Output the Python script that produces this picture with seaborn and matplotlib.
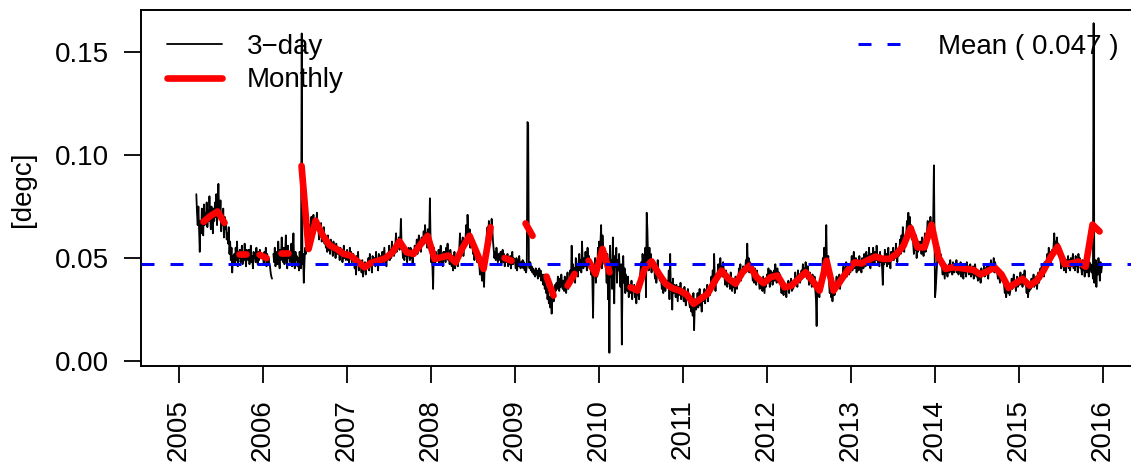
import numpy as np
import pandas as pd
import matplotlib
matplotlib.use("Agg")
import matplotlib.pyplot as plt
import seaborn as sns
from matplotlib.lines import Line2D

# 3-day values in thousandths of a degree (None = missing)
three_day_2005 = [
    81, 72, 66, 75, 64,
    53, 68, 62, 74, 70, 61, 76, 66, 72, 69,
    77, 65, 73, 68, 80, 70, 64, 75, 71, 62,
    74, 68, 77, 70, 81, 66, 75, 86, 72, 69,
    78, 63, 71, 66, 74, 60, 70, 64, 67, 59,
    62, 57, 65, 52, 58, 49, 55, 43, 51, 47,
    52, 47, 55, 49, 58, 46, 53, 50, 54, 48,
    50, 56, 47, 53, 49, 57, 51, 46, 54, 52,
    49, 54, 47, 52, 56, 48, 51, 45, 53, 50,
    52, 48, 55, 50, 47, 53, 49, 54, 51, 50,
]
three_day_2006 = [
    51, 47, 53, 49, 55, 46, 52, 48, 50, 47,
    46, 43, 41, 40, None, 52, 48, 55, 46, 50,
    53, 47, 58, 50, 45, 54, 49, 60, 51, 48,
    55, 47, 52, 61, 49, 45, 56, 50, 53, 48,
    50, 57, 46, 52, 62, 48, 45, 53, 49, 51,
    46, 50, 44, 53, 48, 45, 159, 47, 52, 38,
    48, 55, 52, 60, 57, 63, 58, 66, 61, 64,
    70, 63, 68, 71, 65, 62, 69, 66, 72, 64,
    66, 59, 64, 61, 67, 58, 63, 60, 65, 57,
    60, 55, 58, 53, 61, 54, 57, 52, 59, 56,
    55, 51, 58, 53, 56, 50, 57, 54, 52, 55,
    53, 49, 55, 51, 54, 48, 52, 56, 50, 53, 49, 52,
]
three_day_2007 = [
    54, 49, 52, 47, 55, 50, 53, 48, 51, 52,
    50, 45, 48, 42, 51, 47, 53, 44, 49, 46,
    47, 43, 49, 41, 46, 44, 48, 42, 47, 45,
    46, 50, 44, 52, 47, 49, 43, 51, 48, 47,
    50, 46, 53, 47, 49, 44, 52, 48, 51, 47,
    49, 53, 47, 51, 55, 48, 50, 46, 52, 49,
    51, 56, 49, 54, 50, 58, 52, 55, 51, 53,
    57, 62, 53, 58, 55, 60, 54, 59, 69, 56,
    55, 50, 53, 49, 56, 51, 54, 48, 52, 55,
    53, 49, 55, 50, 52, 47, 54, 51, 56, 52,
    54, 59, 52, 57, 61, 55, 58, 53, 60, 56,
    58, 63, 57, 66, 60, 62, 55, 64, 59, 61, 79, 58,
]
three_day_2008 = [
    48, 52, 46, 35, 55, 50, 47, 53, 49, 51,
    49, 54, 47, 52, 56, 48, 51, 46, 53, 50,
    53, 48, 55, 50, 57, 49, 52, 47, 54, 51,
    46, 51, 44, 49, 53, 45, 50, 47, 48, 46,
    50, 55, 62, 52, 58, 54, 60, 51, 57, 55,
    59, 66, 57, 71, 62, 58, 64, 55, 61, 60,
    58, 52, 56, 49, 55, 51, 54, 48, 53, 50,
    47, 42, 45, 44, 39, 43, 41, 36, 48, 46,
    55, 62, 65, 60, 68, 63, 66, 61, 69, 64,
    58, 54, 50, 53, 49, 55, 51, 48, 52, 50,
    49, 53, 47, 51, 54, 48, 52, 46, 50, 49,
    48, 52, 46, 50, 47, 51, 45, 49, 53, 47, 50, 48,
]
three_day_2009 = [
    48, 45, 50, 44, 49, 46, 51, 47, 45, 48,
    46, 49, 45, 48, 44, 47, 43, 46, 116, 115,
    47, 45, 48, 44, 46, 43, 45, 42, 44, 41,
    45, 42, 44, 40, 43, 45, 41, 44, 39, 42,
    40, 37, 42, 35, 38, 33, 36, 30, 34, 28,
    31, 26, 33, 23, 30, 35, 29, 33, 37, 34,
    38, 35, 41, 37, 34, 40, 36, 42, 38, 35,
    39, 34, 41, 36, 33, 38, 43, 35, 40, 37,
    44, 39, 56, 42, 47, 40, 45, 38, 50, 43,
    46, 41, 48, 52, 44, 49, 43, 58, 47, 45,
    50, 46, 53, 48, 44, 55, 47, 51, 45, 49,
    42, 48, 39, 21, 45, 43, 50, 38, 46, 41, 55, 44,
]
three_day_2010 = [
    58, 50, 57, 66, 45, 61, 52, 55, 47, 53,
    48, 38, 52, 30, 45, 4, 56, 41, 49, 35,
    60, 42, 28, 51, 46, 55, 38, 49, 44, 52,
    43, 36, 47, 8, 40, 51, 38, 45, 33, 42,
    38, 34, 41, 31, 37, 35, 33, 39, 30, 36,
    34, 37, 31, 36, 28, 35, 38, 33, 30, 40,
    44, 48, 38, 52, 45, 50, 47, 55, 31, 72,
    64, 50, 44, 55, 46, 52, 43, 49, 47, 45,
    45, 40, 47, 38, 43, 49, 41, 44, 39, 42,
    39, 35, 41, 33, 37, 40, 34, 38, 36, 39,
    36, 44, 30, 52, 34, 38, 25, 40, 33, 37,
    35, 31, 37, 33, 29, 36, 34, 32, 38, 30, 35, 33,
]
three_day_2011 = [
    34, 29, 36, 31, 27, 33, 30, 35, 32, 28,
    26, 31, 24, 29, 22, 33, 15, 27, 30, 25,
    28, 33, 26, 31, 35, 27, 30, 24, 32, 29,
    30, 35, 28, 34, 31, 37, 29, 33, 36, 32,
    35, 41, 37, 44, 36, 52, 39, 34, 42, 38,
    42, 47, 40, 45, 50, 43, 46, 41, 48, 44,
    41, 37, 44, 39, 36, 42, 38, 40, 35, 43,
    38, 34, 40, 36, 39, 33, 41, 37, 35, 39,
    40, 45, 42, 47, 39, 44, 41, 46, 43, 45,
    44, 49, 46, 57, 45, 50, 43, 48, 47, 44,
    43, 39, 42, 38, 45, 40, 37, 44, 41, 39,
    38, 35, 40, 36, 39, 34, 41, 37, 33, 40, 36, 39,
]
three_day_2012 = [
    42, 38, 45, 40, 36, 44, 39, 43, 37, 41,
    44, 39, 47, 41, 38, 45, 40, 43, 39, 42,
    37, 33, 39, 35, 32, 38, 34, 36, 31, 37,
    35, 39, 33, 38, 36, 40, 34, 37, 35, 39,
    38, 43, 37, 41, 36, 44, 39, 42, 38, 40,
    44, 40, 47, 42, 45, 41, 48, 43, 40, 46,
    41, 37, 43, 38, 40, 36, 42, 39, 37, 41,
    35, 30, 17, 38, 33, 36, 31, 40, 34, 37,
    44, 50, 47, 55, 48, 52, 66, 45, 49, 51,
    38, 33, 36, 31, 35, 29, 34, 37, 32, 36,
    37, 41, 36, 40, 38, 42, 35, 39, 41, 38,
    42, 46, 40, 45, 43, 48, 41, 44, 47, 42, 45, 43,
]
three_day_2013 = [
    46, 51, 44, 49, 53, 45, 48, 50, 43, 47,
    49, 44, 51, 46, 48, 43, 50, 47, 45, 52,
    50, 46, 53, 48, 51, 47, 55, 49, 45, 52,
    52, 48, 55, 50, 47, 53, 49, 56, 51, 47,
    50, 46, 53, 48, 51, 45, 37, 49, 47, 54,
    48, 52, 46, 51, 55, 47, 50, 45, 53, 49,
    51, 55, 49, 53, 50, 57, 52, 48, 54, 51,
    54, 59, 52, 61, 56, 65, 58, 53, 60, 57,
    62, 68, 60, 72, 64, 70, 61, 66, 59, 65,
    57, 52, 59, 54, 61, 50, 56, 53, 58, 55,
    54, 58, 52, 60, 55, 51, 57, 62, 53, 56,
    63, 68, 60, 66, 64, 70, 62, 67, 65, 69, 95, 58,
]
three_day_2014 = [
    31, 35, 42, 48, 53, 50, 55, 49, 52, 47,
    46, 42, 48, 44, 40, 47, 43, 45, 41, 46,
    47, 43, 49, 44, 46, 42, 48, 45, 43, 47,
    45, 49, 43, 47, 42, 46, 44, 48, 41, 46,
    44, 40, 47, 43, 45, 41, 48, 44, 46, 42,
    43, 47, 41, 45, 42, 46, 40, 44, 47, 43,
    41, 44, 39, 43, 40, 42, 38, 45, 41, 43,
    43, 46, 41, 45, 42, 47, 44, 40, 46, 43,
    46, 49, 44, 47, 45, 50, 43, 48, 46, 44,
    43, 40, 45, 41, 38, 44, 42, 39, 43, 40,
    37, 33, 36, 31, 35, 38, 33, 36, 32, 34,
    36, 40, 35, 38, 42, 37, 39, 34, 38, 41, 36, 39,
]
three_day_2015 = [
    40, 37, 43, 38, 41, 36, 42, 39, 44, 38,
    37, 33, 39, 31, 36, 34, 38, 35, 40, 36,
    38, 42, 36, 40, 37, 41, 35, 39, 43, 38,
    42, 45, 40, 47, 43, 46, 41, 48, 44, 45,
    48, 52, 46, 55, 49, 53, 47, 51, 54, 50,
    56, 62, 53, 58, 55, 60, 52, 57, 54, 51,
    49, 45, 51, 46, 48, 44, 50, 47, 43, 49,
    47, 51, 45, 49, 44, 50, 46, 48, 52, 45,
    48, 44, 51, 46, 49, 43, 52, 47, 50, 45,
    46, 42, 49, 44, 47, 41, 48, 45, 43, 50,
    45, 41, 48, 44, 47, 43, 46, 40, 164, 38,
    44, 49, 36, 47, 42, 50, 45, 39, 48, 43, 46, 47,
]

# Monthly means in thousandths, Jan..Dec (None = incomplete month)
monthly_2005 = [None, None, None, 67.6, 70.5, 72.6, 67.1, None, 51.8, 51.8, None, 51.6]
monthly_2006 = [50.0, None, 52.5, 52.5, None, 94.7, 54.4, 68.1, 61.2, 56.2, 54.4, 52.0]
monthly_2007 = [51.2, 48.3, 45.5, 47.8, 48.7, 50.0, 52.8, 58.1, 52.8, 52.0, 56.6, 60.8]
monthly_2008 = [49.5, 50.4, 51.2, 47.9, 55.0, 60.8, 52.8, 44.7, 64.9, None, 50.0, 48.7]
monthly_2009 = [None, 66.8, 60.8, None, 41.0, 31.8, None, 36.6, 42.3, None, 48.7, 42.3]
monthly_2010 = [54.4, 43.1, None, None, 35.8, 34.2, 44.7, 48.4, 42.6, 37.5, 35.3, 34.2]
monthly_2011 = [32.3, 27.8, 30.2, 32.6, 38.6, 43.9, 39.9, 37.5, 43.1, 46.3, 40.7, 37.8]
monthly_2012 = [40.7, 41.5, 35.8, 36.6, 39.9, 43.1, 39.0, 34.2, 48.7, 34.2, 39.0, 43.9]
monthly_2013 = [47.9, 47.4, 49.1, 50.7, 49.6, 49.6, 52.0, 56.0, 64.6, 55.2, 55.2, 66.2]
monthly_2014 = [50.4, 44.7, 45.5, 45.2, 44.7, 44.2, 42.0, 43.6, 45.5, 42.0, 35.5, 37.8]
monthly_2015 = [39.9, 36.6, 39.0, 43.9, 50.4, 55.5, 47.1, 47.4, 48.3, 45.8, 66.2, 62.9]

mean_value = 0.047
year_ticks = list(range(2005, 2017))
y_ticks = [0.00, 0.05, 0.10, 0.15]

three_day = {
    2005: three_day_2005, 2006: three_day_2006, 2007: three_day_2007,
    2008: three_day_2008, 2009: three_day_2009, 2010: three_day_2010,
    2011: three_day_2011, 2012: three_day_2012, 2013: three_day_2013,
    2014: three_day_2014, 2015: three_day_2015,
}
monthly = {
    2005: monthly_2005, 2006: monthly_2006, 2007: monthly_2007,
    2008: monthly_2008, 2009: monthly_2009, 2010: monthly_2010,
    2011: monthly_2011, 2012: monthly_2012, 2013: monthly_2013,
    2014: monthly_2014, 2015: monthly_2015,
}
first_day = {2005: "2005-03-17"}


def decimal_year(dates):
    days = np.where(dates.is_leap_year, 366.0, 365.0)
    return dates.year + (dates.dayofyear - 1) / days


def to_segments(x, values):
    """Split a series at missing values so gaps stay open."""
    v = np.array(values, dtype=float) / 1000.0
    seg = np.cumsum(np.isnan(v))
    keep = ~np.isnan(v)
    return pd.DataFrame({"year": np.asarray(x)[keep], "value": v[keep], "seg": seg[keep]})


x3, v3 = [], []
for yr, vals in three_day.items():
    dates = pd.date_range(first_day.get(yr, f"{yr}-01-01"), periods=len(vals), freq="3D")
    x3.extend(decimal_year(dates))
    v3.extend(vals)
df3 = to_segments(x3, v3)

xm, vm = [], []
for yr, vals in monthly.items():
    xm.extend(yr + (np.arange(12) + 0.5) / 12.0)
    vm.extend(vals)
dfm = to_segments(xm, vm)

sns.set_theme(style="ticks")
plt.rcParams["font.family"] = ["Liberation Sans", "DejaVu Sans"]
plt.rcParams.update({
    "text.color": "black",
    "axes.labelcolor": "black",
    "xtick.color": "black",
    "ytick.color": "black",
    "axes.edgecolor": "black",
})

fig = plt.figure(figsize=(11.31, 4.67), dpi=100)
ax = fig.add_axes([141 / 1131, 101 / 467, 997 / 1131, 356 / 467])
ax.set_facecolor("white")

px = 0.72  # points per pixel at 100 dpi
mean_lw = 3 * px
mean_dash = (0, (13 * px / mean_lw, 16 * px / mean_lw))

sns.lineplot(data=df3, x="year", y="value", units="seg", estimator=None,
             color="black", linewidth=1.3, ax=ax, zorder=2)
sns.lineplot(data=dfm, x="year", y="value", units="seg", estimator=None,
             color="red", linewidth=4.8, ax=ax, zorder=3,
             solid_capstyle="round", solid_joinstyle="round")
ax.axhline(mean_value, color="blue", linewidth=mean_lw, linestyle=mean_dash, zorder=4)

ax.set_xlim(2004.547, 2016.416)
ax.set_ylim(-0.0024, 0.1704)
ax.set_xticks(year_ticks)
ax.set_xticklabels([str(y) for y in year_ticks], rotation=90)
ax.set_yticks(y_ticks)
ax.set_yticklabels([f"{t:.2f}" for t in y_ticks])
ax.tick_params(axis="both", direction="out", length=12.2, width=1.3,
               color="black", labelsize=20, labelcolor="black")
ax.tick_params(axis="x", pad=12)
ax.tick_params(axis="y", pad=11)
ax.set_xlabel("")
ax.set_ylabel("")
ax.grid(False)
for s in ax.spines.values():
    s.set_visible(True)
    s.set_linewidth(1.4)
    s.set_color("black")

fig.text(23 / 1131, 1 - 189 / 467, "[degc]", rotation=90, ha="center", va="center",
         fontsize=20, color="black")

h_three = Line2D([], [], color="black", linewidth=1.3)
h_month = Line2D([], [], color="red", linewidth=4.8, solid_capstyle="round")
h_mean = Line2D([], [], color="blue", linewidth=mean_lw, linestyle=mean_dash)

leg1 = ax.legend([h_three, h_month], ["3\u2212day", "Monthly"], loc="upper left",
                 bbox_to_anchor=(0.026, 0.933), frameon=False, fontsize=20,
                 handlelength=1.98, handletextpad=0.9, borderpad=0,
                 borderaxespad=0, labelspacing=0.27, labelcolor="black")
ax.add_artist(leg1)
ax.legend([h_mean], [f"Mean ( {mean_value:.3f} )"], loc="upper left",
          bbox_to_anchor=(0.719, 0.933), frameon=False, fontsize=20,
          handlelength=1.55, handletextpad=1.33, borderpad=0, borderaxespad=0,
          labelcolor="black")

fig.savefig("out.png", dpi=100)
